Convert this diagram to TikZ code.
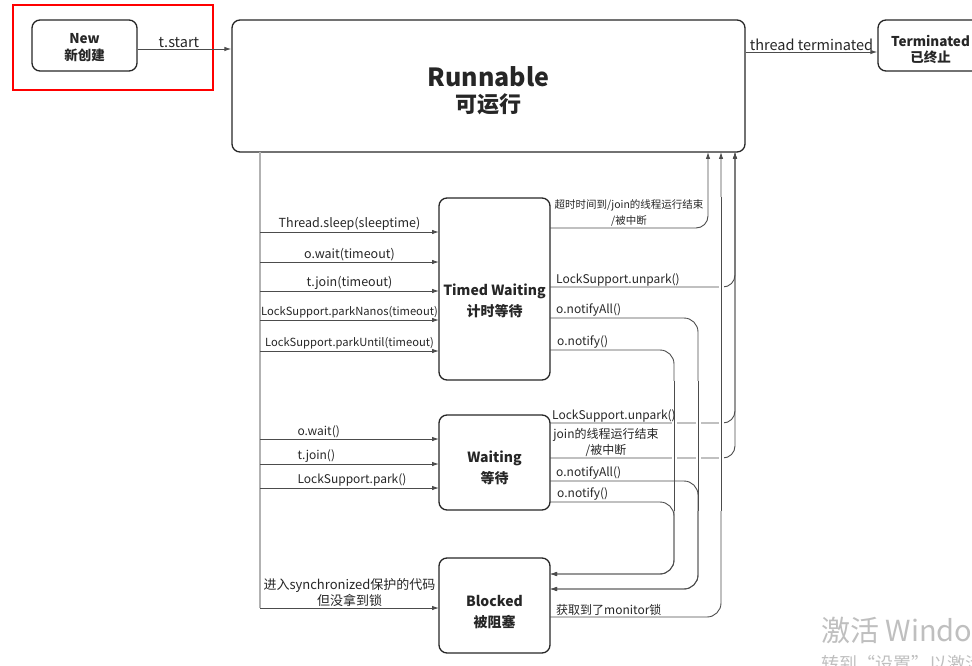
\documentclass[tikz,border=0pt]{standalone}
\usepackage{fontspec}
\setmainfont{Noto Sans CJK SC}
\usetikzlibrary{arrows.meta}

\begin{document}
\begin{tikzpicture}[x=1pt, y=-1pt,
    state/.style={draw=black!85, line width=1.3pt, rounded corners=8pt, inner sep=0pt},
    title/.style={align=center, inner sep=0pt, text=black!85, font=\fontsize{14}{21}\selectfont\bfseries},
    conn/.style={draw=black!70, line width=0.9pt},
    arr/.style={conn, -{Latex[length=7pt,width=4.5pt]}},
    lbl/.style={font=\fontsize{12}{16}\selectfont, inner sep=1pt, text=black!85},
    toplbl/.style={lbl, font=\fontsize{14.5}{17}\selectfont},
    bridge/.style={preaction={draw=white, line width=5pt}, draw=black!70, line width=0.9pt},
    spine/.style={draw=black!30, line width=1.8pt}
  ]
  \useasboundingbox (0,0) rectangle (972,666);

  % states
  \node[state, minimum width=105pt, minimum height=51pt,
    label={[title, yshift=-2pt, font=\fontsize{13.5}{17}\selectfont\bfseries]center:New\\新创建}] (new) at (84.5,45.5) {};
  \node[state, minimum width=513pt, minimum height=132pt,
    label={[title, yshift=-5pt, font=\fontsize{25}{26}\selectfont\bfseries]center:Runnable\\\fontsize{22}{26}\selectfont 可运行}] (run) at (488.5,86) {};
  \node[state, minimum width=105pt, minimum height=51pt,
    label={[title, yshift=-4pt, font=\fontsize{13.5}{15.5}\selectfont\bfseries]center:Terminated\\已终止}] (term) at (930.5,45.5) {};
  \node[state, minimum width=111pt, minimum height=182pt,
    label={[title, yshift=-12pt]center:Timed Waiting\\计时等待}] (tw) at (494.5,289) {};
  \node[state, minimum width=111pt, minimum height=95pt,
    label={[title, yshift=-5.5pt]center:Waiting\\等待}] (wt) at (494.5,462.5) {};
  \node[state, minimum width=111pt, minimum height=95pt,
    label={[title, yshift=-6.5pt]center:Blocked\\被阻塞}] (bl) at (494.5,605.5) {};

  \draw[red, line width=2pt] (13,5) rectangle (213,90);

  % top row
  \coordinate (ns) at ([yshift=-3.5pt]new.east);
  \coordinate (ts) at ([yshift=-6.5pt]term.west);
  \draw[arr] (ns) -- (ns -| run.west) node[pos=0.44, above, toplbl] {t.start};
  \draw[arr] (ts -| run.east) -- (ts) node[midway, above, toplbl] {thread terminated};

  % from Runnable down the left
  \coordinate (sptop) at (260,152);
  \coordinate (spbot) at (260,608);
  \draw[spine] (sptop) -- (spbot);

  \foreach \y/\txt/\fs [count=\i] in {232/Thread.sleep(sleeptime)/12.5, 262/o.wait(timeout)/12.5, 291/t.join(timeout)/12.5,
      320/LockSupport.parkNanos(timeout)/11.2, 351/LockSupport.parkUntil(timeout)/11.2} {
    \coordinate (twin\i) at (439,\y);
    \draw[arr] (twin\i -| sptop) -- (twin\i) node[midway, above, lbl, font=\fontsize{\fs}{16}\selectfont] {\txt};
  }
  \foreach \y/\txt [count=\i] in {439/o.wait(), 464/t.join(), 488/LockSupport.park()} {
    \coordinate (wtin\i) at (439,\y);
    \draw[arr] (wtin\i -| sptop) -- (wtin\i) node[pos=0.207, above right, lbl, inner xsep=0pt] {\txt};
  }
  \coordinate (blin) at (439,608);
  \draw[arr] (blin -| sptop) -- (blin) node[midway, above, lbl, align=center, font=\fontsize{13}{16}\selectfont] {进入synchronized保护的代码\\但没拿到锁};

  % back to Runnable / on to Blocked
  \coordinate (rin1) at (708,152);
  \coordinate (rin2) at (721,152);
  \coordinate (rin3) at (735,152);
  \coordinate (tw1) at (550,228);
  \coordinate (tw2) at (550,287);
  \coordinate (tw3) at (550,318);
  \coordinate (tw4) at (550,350);
  \coordinate (wt1) at (550,423);
  \coordinate (wt2) at (550,458);
  \coordinate (wt3) at (550,481);
  \coordinate (wt4) at (550,502);
  \coordinate (blout) at (550,617);
  \coordinate (blin1) at (550,574);
  \coordinate (blin2) at (550,589);
  \coordinate (colA) at (674,574);
  \coordinate (colB) at (698,589);

  \draw[arr, rounded corners=12pt] (tw1) -| (rin1);
  \draw[arr, rounded corners=12pt] (tw2) -| (rin3);
  \draw[arr, rounded corners=12pt] (wt1) -| (rin3);
  \draw[arr, rounded corners=12pt] (wt2) -| (rin3);
  \draw[arr, rounded corners=14pt] (tw4) -| (colA) -- (blin1);
  \draw[arr, rounded corners=14pt] (tw3) -| (colB) -- (blin2);
  \draw[arr, rounded corners=14pt] (blout) -| (rin2);
  % line jumps
  \draw[bridge] (colA |- tw.south) -- (colA |- wt.south);
  \draw[bridge] (colB |- tw.south) -- (colB |- wt.south);
  \draw[bridge] (rin2 |- tw.north) -- (rin2 |- wt.south);
  \draw[arr, rounded corners=14pt] (wt4) -| (colA) -- (blin1);
  \draw[arr, rounded corners=14pt] (wt3) -| (colB) -- (blin2);

  % labels on the right
  \node[lbl, above, align=center, font=\fontsize{10.5}{16}\selectfont] at (629,228) {超时时间到/join的线程运行结束\\/被中断};
  \node[lbl, anchor=south west] at (555,287) {LockSupport.unpark()};
  \node[lbl, anchor=south west] at (555,318) {o.notifyAll()};
  \node[lbl, anchor=south west] at (556,350) {o.notify()};
  \node[lbl, anchor=south west] at (551,423) {LockSupport.unpark()};
  \node[lbl, above, align=center] at (606,458) {join的线程运行结束\\/被中断};
  \node[lbl, anchor=south west] at (555,481) {o.notifyAll()};
  \node[lbl, anchor=south west] at (556,502) {o.notify()};
  \node[lbl, anchor=south west] at (555,617) {获取到了monitor锁};

  % watermark
  \node[anchor=west, inner sep=0pt, text=black!25, font=\fontsize{29}{32}\selectfont] (wm1) at (821,630) {激活 Windows};
  \node[anchor=north west, inner sep=0pt, text=black!25, font=\fontsize{18}{20}\selectfont] (wm2) at (821,655) {转到“设置”以激活 Windows。};
\end{tikzpicture}
\end{document}
